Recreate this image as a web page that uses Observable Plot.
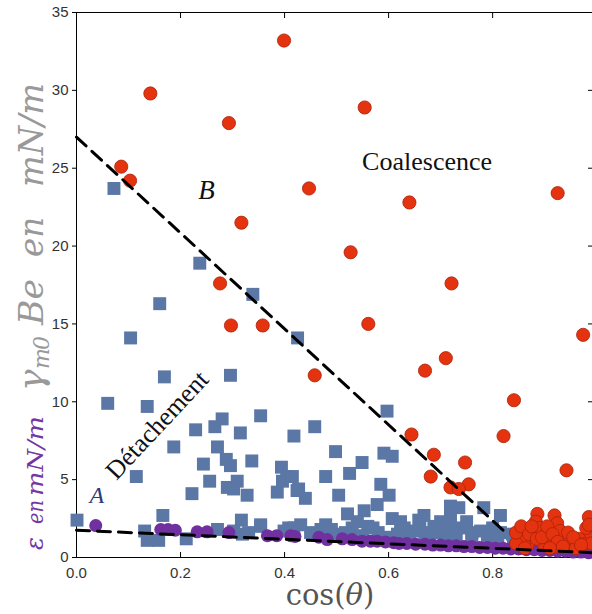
<!DOCTYPE html>
<html>
<head>
<meta charset="utf-8">
<script src="https://cdn.jsdelivr.net/npm/d3@7"></script>
<script src="https://cdn.jsdelivr.net/npm/@observablehq/plot@0.6"></script>
<style>
  html, body { margin: 0; padding: 0; background: #fff; }
  #chart svg { display: block; }
</style>
</head>
<body>
<div id="chart"></div>
<script>
// ---- data ----
const xTicks = [0, 0.2, 0.4, 0.6, 0.8];
const yTicks = [0, 5, 10, 15, 20, 25, 30, 35];

// Coalescence (red circles)
const redX = [0.399,0.142,0.293,0.554,0.086,0.103,0.447,0.640,0.925,0.317,0.527,0.276,0.721,0.297,0.358,0.561,0.974,0.710,0.670,0.458,0.841,0.644,0.821,0.687,0.747,0.942,0.681,0.754,0.719,0.735,
  0.886,0.919,0.985,0.883,0.924,0.860,0.899,0.934,0.985,0.966,0.873,0.912,0.950,0.867,0.899,0.976,0.850,0.880,0.920,0.940,0.890,0.860,0.845,0.960,0.990,0.905,0.930,
  0.845,0.855,0.870,0.875,0.885,0.895,0.905,0.915,0.925,0.935,0.945,0.955,0.970,0.980,0.985,0.862,0.910];
const redY = [33.2,29.8,27.9,28.9,25.1,24.2,23.7,22.8,23.4,21.5,19.6,17.6,17.6,14.9,14.9,15.0,14.3,12.8,12.0,11.7,10.1,7.9,7.8,6.6,6.1,5.6,5.2,4.7,4.5,4.4,
  2.8,2.7,2.6,2.3,2.2,1.7,1.6,1.4,1.5,1.2,1.1,1.1,0.9,0.8,0.8,0.85,1.3,1.4,0.7,1.1,1.9,1.0,0.9,0.6,0.9,1.3,1.7,
  1.6,2.0,1.5,2.0,1.2,1.3,2.0,1.5,1.0,0.7,1.6,1.3,0.8,1.9,2.1,0.6,0.6];

// Détachement (blue squares)
const blueX = [0.072,0.237,0.339,0.160,0.104,0.425,0.060,0.136,0.169,0.296,0.280,0.354,0.266,0.229,0.315,0.418,0.187,0.271,0.288,0.337,0.244,0.296,0.394,0.115,0.256,0.309,0.290,0.302,0.328,0.222,0.386,0.404,0.424,0.396,
  0.458,0.597,0.498,0.591,0.607,0.549,0.525,0.479,0.415,0.427,0.440,0.504,0.585,0.601,0.578,0.553,0.521,0.540,0.607,0.623,0.658,0.479,0.431,0.408,0.354,0.331,0.517,0.617,0.498,
  0.001,0.166,0.131,0.136,0.158,0.211,0.271,0.317,0.319,0.354,0.302,0.399,0.418,
  0.719,0.735,0.783,0.815,0.668,0.719,0.687,0.742,0.777,0.815,0.838,0.790,0.700,0.650,0.670,0.730,0.760,0.580,0.560,0.450,0.470,0.840,0.810,0.630,0.600,0.550,0.700,0.750,
  0.640,0.680,0.720,0.760,0.800,0.570,0.530,0.490,0.660,0.710];
const blueY = [23.7,18.9,16.9,16.3,14.1,14.1,9.9,9.7,11.6,11.7,8.9,9.1,8.4,8.2,8.0,7.8,7.1,7.1,6.3,6.2,6.0,5.9,5.8,5.2,4.9,4.9,4.5,4.4,4.0,4.1,4.2,5.2,4.3,4.9,
  8.4,9.4,6.8,6.7,6.5,6.1,5.4,5.2,5.2,4.4,3.8,4.0,4.7,4.0,3.4,3.0,2.8,2.3,2.5,2.3,2.4,2.1,2.1,1.9,2.1,1.6,1.6,1.5,1.5,
  2.4,2.7,1.7,1.1,1.1,1.2,1.8,2.4,1.5,2.0,1.7,1.7,1.9,
  3.3,3.2,3.2,2.7,2.7,2.6,2.0,1.9,1.7,1.6,1.5,1.3,1.6,1.7,1.3,1.4,1.2,1.6,2.0,1.6,1.8,1.2,1.1,1.9,1.3,1.4,2.3,2.3,
  1.3,1.6,1.8,1.6,1.9,1.9,1.9,1.8,2.1,1.2];

// Epsilon (purple circles)
const purpleX = [0.037,0.162,0.176,0.190,0.232,0.251,0.293,0.367,0.385,0.412,0.420,0.466,0.482,0.511,0.530,0.549,0.565,0.578,0.594,0.610,0.620,0.635,0.652,0.670,0.685,0.700,0.715,0.730,0.745,0.760,0.775,0.790,0.805,0.820,0.835,0.850,0.865,0.880,0.895,0.910,0.925,0.940,0.955,0.970,0.985];
const purpleY = [2.05,1.8,1.8,1.75,1.65,1.65,1.6,1.4,1.4,1.4,1.35,1.3,1.15,1.2,1.15,1.05,1.05,1.05,1.0,0.95,0.9,0.9,0.85,0.85,0.8,0.8,0.75,0.75,0.7,0.7,0.65,0.65,0.6,0.6,0.55,0.55,0.5,0.5,0.45,0.45,0.4,0.4,0.35,0.35,0.3];

// Boundary lines (dashed)
const lineAX = [0, 1];
const lineAY = [1.75, 0.3];
const lineBX = [0, 0.82];
const lineBY = [27.0, 1.75];

// ---- build tables ----
const red = redX.map((x, i) => ({x, y: redY[i]}));
const blue = blueX.map((x, i) => ({x, y: blueY[i]}));
const purple = purpleX.map((x, i) => ({x, y: purpleY[i]}));
const lineA = lineAX.map((x, i) => ({x, y: lineAY[i]}));
const lineB = lineBX.map((x, i) => ({x, y: lineBY[i]}));

const serif = "'Liberation Serif', 'DejaVu Serif', serif";
const dserif = "'DejaVu Serif', 'Liberation Serif', serif";
const sans = "'Liberation Sans', Arial, sans-serif";
const dash = {x: "x", y: "y", stroke: "#000", strokeWidth: 3, strokeDasharray: "13,8"};

const chart = Plot.plot({
  width: 592,
  height: 614,
  marginLeft: 76,
  marginRight: 0,
  marginTop: 12,
  marginBottom: 57,
  style: {fontFamily: sans, background: "#fff", overflow: "visible"},
  x: {domain: [0, 0.992], label: null},
  y: {domain: [0, 35], label: null},
  marks: [
    Plot.ruleY([0], {stroke: "#000"}),
    Plot.ruleY([35], {stroke: "#000"}),
    Plot.ruleX([0], {stroke: "#000"}),
    Plot.axisX({ticks: xTicks, tickSize: -5, tickFormat: () => "", label: null}),
    Plot.axisX({ticks: xTicks, tickSize: 0, tickPadding: 10, fontSize: 15, fill: "#333", label: null}),
    Plot.axisX({anchor: "top", ticks: xTicks.slice(1), tickSize: -5, tickFormat: () => "", label: null}),
    Plot.axisY({ticks: yTicks, tickSize: 4, tickPadding: 4, fontSize: 15, fill: "#333", label: null}),
    Plot.axisY({anchor: "right", ticks: yTicks.slice(1, -1), tickSize: -5, tickFormat: () => "", label: null}),
    Plot.dot(blue, {x: "x", y: "y", symbol: "square", r: 7.3, fill: "#5b77a6"}),
    Plot.dot(purple, {x: "x", y: "y", r: 6.5, fill: "#7030a0"}),
    Plot.dot(red, {x: "x", y: "y", r: 6.6, fill: "#e5330f", stroke: "#a8220a", strokeWidth: 0.8}),
    Plot.line(lineA, dash),
    Plot.line(lineB, dash),
    Plot.text(["Coalescence"], {x: 0.674, y: 25.4, text: d => d, fontFamily: serif, fontSize: 26, fill: "#111"}),
    Plot.text(["B"], {x: 0.25, y: 23.6, text: d => d, fontFamily: serif, fontStyle: "italic", fontSize: 27, fill: "#111"}),
    Plot.text(["A"], {x: 0.039, y: 4.0, text: d => d, fontFamily: serif, fontStyle: "italic", fontSize: 24, fill: "#2b3a7a"}),
    Plot.text(["Détachement"], {x: 0.155, y: 8.5, text: d => d, fontFamily: serif, fontSize: 26, rotate: -47, fill: "#111"})
  ]
});

document.getElementById("chart").appendChild(chart);

// ---- composite axis titles (real text) ----
const svg = d3.select(chart);
// y title, rotated; local x = distance up from y=557
const gy = svg.append("g").attr("transform", "translate(43,557) rotate(-90)")
  .attr("text-anchor", "start")
  .style("font-family", dserif).style("font-style", "italic");
const piece = (txt, x0, len, size, color, dy = 0) => {
  const t = gy.append("text").attr("x", x0).attr("y", dy).attr("font-size", size)
    .attr("fill", color).attr("text-anchor", "start").text(txt);
  if (len) t.attr("textLength", len).attr("lengthAdjust", "spacingAndGlyphs");
  return t;
};
// purple part: ε en mN/m
const purpleInk = "#7436a2";
piece("ε", 7, null, 24, purpleInk);
piece("en", 33, 24, 22, purpleInk);
piece("mN/m", 61, 80, 23, purpleInk);
// gray part: γm0Be en mN/m
const grayInk = "#999";
piece("γ", 166, null, 36, grayInk);
piece("m", 188, null, 22, grayInk, 6);
piece("0", 207, null, 22, grayInk, 6);
piece("Be", 232, 46, 34, grayInk);
piece("en", 300, 40, 34, grayInk);
piece("mN/m", 370, 104, 34, grayInk);

// x title: cos(θ)
const xt = svg.append("text").attr("x", 330).attr("y", 605).attr("text-anchor", "middle")
  .style("font-family", dserif).attr("font-size", 29).attr("fill", "#555");
xt.append("tspan").text("cos(");
xt.append("tspan").style("font-style", "italic").text("θ");
xt.append("tspan").text(")");
</script>
</body>
</html>
